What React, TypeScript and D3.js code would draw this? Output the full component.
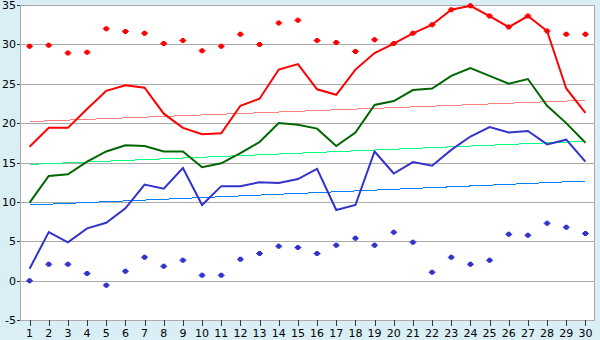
import React from "react";
import * as d3 from "d3";

const days = d3.range(1, 31);
const redLine = [17.0, 19.4, 19.4, 21.8, 24.1, 24.8, 24.5, 21.2, 19.4, 18.6, 18.7, 22.2, 23.1, 26.8, 27.5, 24.3, 23.6, 26.8, 28.9, 30.1, 31.4, 32.5, 34.4, 34.9, 33.6, 32.2, 33.6, 31.7, 24.4, 21.3];
const redDots = [29.75, 29.9, 28.9, 29.0, 32.0, 31.65, 31.4, 30.1, 30.5, 29.2, 29.75, 31.3, 30.0, 32.7, 33.05, 30.5, 30.25, 29.1, 30.6, 30.1, 31.4, 32.5, 34.4, 34.9, 33.6, 32.2, 33.6, 31.7, 31.3, 31.3];
const greenLine = [9.9, 13.3, 13.5, 15.1, 16.4, 17.2, 17.1, 16.4, 16.4, 14.4, 14.9, 16.2, 17.6, 20.0, 19.8, 19.3, 17.1, 18.8, 22.3, 22.8, 24.2, 24.4, 26.0, 27.0, 26.0, 25.0, 25.6, 22.2, 20.0, 17.5];
const blueLine = [1.5, 6.17, 4.86, 6.64, 7.35, 9.18, 12.2, 11.67, 14.3, 9.6, 12.0, 12.0, 12.5, 12.4, 12.9, 14.2, 8.97, 9.6, 16.4, 13.6, 15.06, 14.6, 16.6, 18.3, 19.5, 18.8, 19.0, 17.3, 17.9, 15.1];
const blueDots = [0.0, 2.07, 2.07, 0.92, -0.6, 1.18, 2.96, 1.81, 2.58, 0.67, 0.67, 2.7, 3.46, 4.35, 4.22, 3.46, 4.48, 5.37, 4.48, 6.13, 4.86, 1.05, 2.96, 2.07, 2.58, 5.88, 5.75, 7.27, 6.77, 6.0];
const redTrend = [20.2, 22.9];
const greenTrend = [14.76, 17.7];
const blueTrend = [9.6, 12.65];
const yTicks = [-5, 0, 5, 10, 15, 20, 25, 30, 35];

const W = 600, H = 340;
const left = 20, right = 595, top = 5, bottom = 320;
const font = "'DejaVu Sans', sans-serif";

export default function App() {
  const x = d3.scaleBand<number>().domain(days).range([left, right]);
  const xc = (d: number) => (x(d) as number) + x.bandwidth() / 2;
  const y = d3.scaleLinear().domain([-5, 35]).range([bottom, top]);
  const line = d3.line<number>().x((_, i) => xc(days[i])).y((v) => y(v));
  const trend = (t: number[]) =>
    `M${xc(days[0])},${y(t[0])}L${xc(days[days.length - 1])},${y(t[1])}`;
  const marker = (cx: number, cy: number, color: string, k: string) => (
    <path key={k} d={`M${cx - 1.5},${cy - 2.5}h3v1h1v1h1v1h-1v1h-1v1h-3v-1h-1v-1h-1v-1h1v-1h1z`} fill={color} />
  );
  return (
    <svg width={W} height={H} style={{ display: "block", position: "absolute", left: 0, top: 0 }}>
      <rect x={0} y={0} width={W} height={H} fill="#d9eef5" />
      <rect x={left} y={top} width={right - left} height={bottom - top} fill="#ffffff" />
      {yTicks.map((t) => (
        <g key={t}>
          <line x1={left} x2={right} y1={Math.round(y(t)) + 0.5} y2={Math.round(y(t)) + 0.5} stroke="#aaaaaa" />
          <line x1={left - 3} x2={left} y1={Math.round(y(t)) + 0.5} y2={Math.round(y(t)) + 0.5} stroke="#333" />
          <text x={left - 4} y={y(t) + 4} textAnchor="end" fontSize={11} fontFamily={font} fill="#000">{t}</text>
        </g>
      ))}
      <rect x={left + 0.5} y={top + 0.5} width={right - left - 1} height={bottom - top} fill="none" stroke="#aaaaaa" />
      {days.map((d) => (
        <g key={d}>
          <line x1={Math.round(xc(d)) + 0.5} x2={Math.round(xc(d)) + 0.5} y1={bottom} y2={bottom + 6} stroke="#333" />
          <text x={xc(d)} y={337} textAnchor="middle" fontSize={11} fontFamily={font} fill="#000">{d}</text>
        </g>
      ))}
      <path d={trend(redTrend)} stroke="#ff8080" strokeWidth={1} fill="none" shapeRendering="crispEdges" />
      <path d={trend(greenTrend)} stroke="#00ff80" strokeWidth={1} fill="none" shapeRendering="crispEdges" />
      <path d={trend(blueTrend)} stroke="#0080ff" strokeWidth={1} fill="none" shapeRendering="crispEdges" />
      <path d={line(blueLine) || ""} stroke="#3333cc" strokeWidth={2} fill="none" />
      <path d={line(greenLine) || ""} stroke="#006600" strokeWidth={2} fill="none" />
      <path d={line(redLine) || ""} stroke="#ff0000" strokeWidth={2} fill="none" />
      {redDots.map((v, i) => marker(xc(days[i]), y(v), "#ff0000", "r" + i))}
      {blueDots.map((v, i) => marker(xc(days[i]), y(v), "#3333cc", "b" + i))}
    </svg>
  );
}
